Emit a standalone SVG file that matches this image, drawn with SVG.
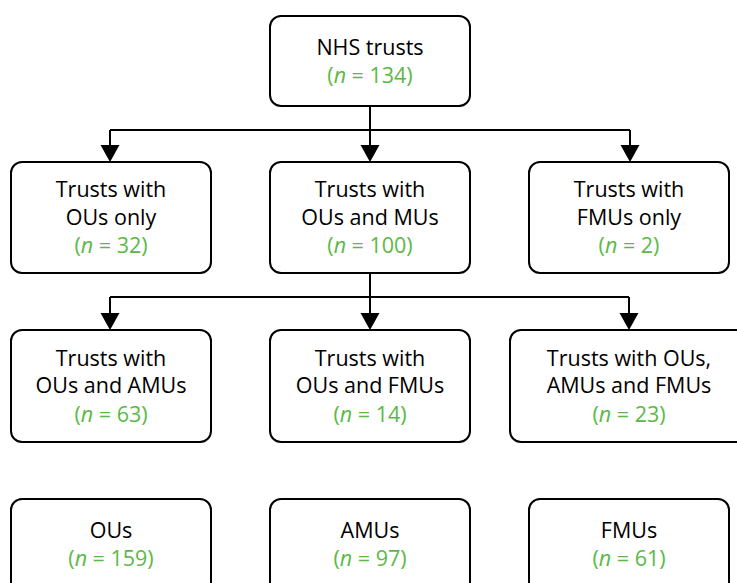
<svg xmlns="http://www.w3.org/2000/svg" width="737" height="583" viewBox="0 0 737 583">
<style>
.box{fill:#fff;stroke:#000;stroke-width:2}
.t{font-family:"Open Sans","Liberation Sans",sans-serif;font-size:21.5px;fill:#000;text-anchor:middle}
.g{fill:#5ab946}
.i{font-style:italic}
.c{fill:none;stroke:#000;stroke-width:2}
.ah{fill:#000}
</style>
<rect width="737" height="583" fill="#fff"/>
<g id="connectors">
<path class="c" d="M370,106 V130 M110,130 H630"/>
<path class="c" d="M110,130 V146 M370,130 V146 M630,130 V146"/>
<polygon class="ah" points="100.5,145 119.5,145 110,162"/>
<polygon class="ah" points="360.5,145 379.5,145 370,162"/>
<polygon class="ah" points="620.5,145 639.5,145 630,162"/>
<path class="c" d="M370,273 V297 M110,297 H629"/>
<path class="c" d="M110,297 V314 M370,297 V314 M629,297 V314"/>
<polygon class="ah" points="100.5,313 119.5,313 110,330"/>
<polygon class="ah" points="360.5,313 379.5,313 370,330"/>
<polygon class="ah" points="619.5,313 638.5,313 629,330"/>
</g>
<g id="nhs">
<rect class="box" x="270" y="16" width="200" height="90" rx="11"/>
<text class="t" x="370" y="55">NHS trusts</text>
<text class="t g" x="370" y="83">(<tspan class="i">n</tspan> = 134)</text>
</g>
<g id="ous-only">
<rect class="box" x="11" y="162" width="200" height="111" rx="11"/>
<text class="t" x="111" y="197">Trusts with</text>
<text class="t" x="111" y="225">OUs only</text>
<text class="t g" x="111" y="253">(<tspan class="i">n</tspan> = 32)</text>
</g>
<g id="ous-mus">
<rect class="box" x="270" y="162" width="200" height="111" rx="11"/>
<text class="t" x="370" y="197">Trusts with</text>
<text class="t" x="370" y="225">OUs and MUs</text>
<text class="t g" x="370" y="253">(<tspan class="i">n</tspan> = 100)</text>
</g>
<g id="fmus-only">
<rect class="box" x="529" y="162" width="200" height="111" rx="11"/>
<text class="t" x="629" y="197">Trusts with</text>
<text class="t" x="629" y="225">FMUs only</text>
<text class="t g" x="629" y="253">(<tspan class="i">n</tspan> = 2)</text>
</g>
<g id="ous-amus">
<rect class="box" x="11" y="330" width="200" height="112" rx="11"/>
<text class="t" x="111" y="366">Trusts with</text>
<text class="t" x="111" y="393">OUs and AMUs</text>
<text class="t g" x="111" y="422">(<tspan class="i">n</tspan> = 63)</text>
</g>
<g id="ous-fmus">
<rect class="box" x="270" y="330" width="200" height="112" rx="11"/>
<text class="t" x="370" y="366">Trusts with</text>
<text class="t" x="370" y="393">OUs and FMUs</text>
<text class="t g" x="370" y="422">(<tspan class="i">n</tspan> = 14)</text>
</g>
<g id="ous-amus-fmus">
<rect class="box" x="510" y="330" width="250" height="112" rx="11"/>
<text class="t" x="629" y="366">Trusts with OUs,</text>
<text class="t" x="629" y="393">AMUs and FMUs</text>
<text class="t g" x="629" y="422">(<tspan class="i">n</tspan> = 23)</text>
</g>
<g id="ous">
<rect class="box" x="11" y="499" width="200" height="110" rx="11"/>
<text class="t" x="111" y="538">OUs</text>
<text class="t g" x="111" y="566">(<tspan class="i">n</tspan> = 159)</text>
</g>
<g id="amus">
<rect class="box" x="270" y="499" width="200" height="110" rx="11"/>
<text class="t" x="370" y="538">AMUs</text>
<text class="t g" x="370" y="566">(<tspan class="i">n</tspan> = 97)</text>
</g>
<g id="fmus">
<rect class="box" x="529" y="499" width="200" height="110" rx="11"/>
<text class="t" x="629" y="538">FMUs</text>
<text class="t g" x="629" y="566">(<tspan class="i">n</tspan> = 61)</text>
</g>
</svg>
